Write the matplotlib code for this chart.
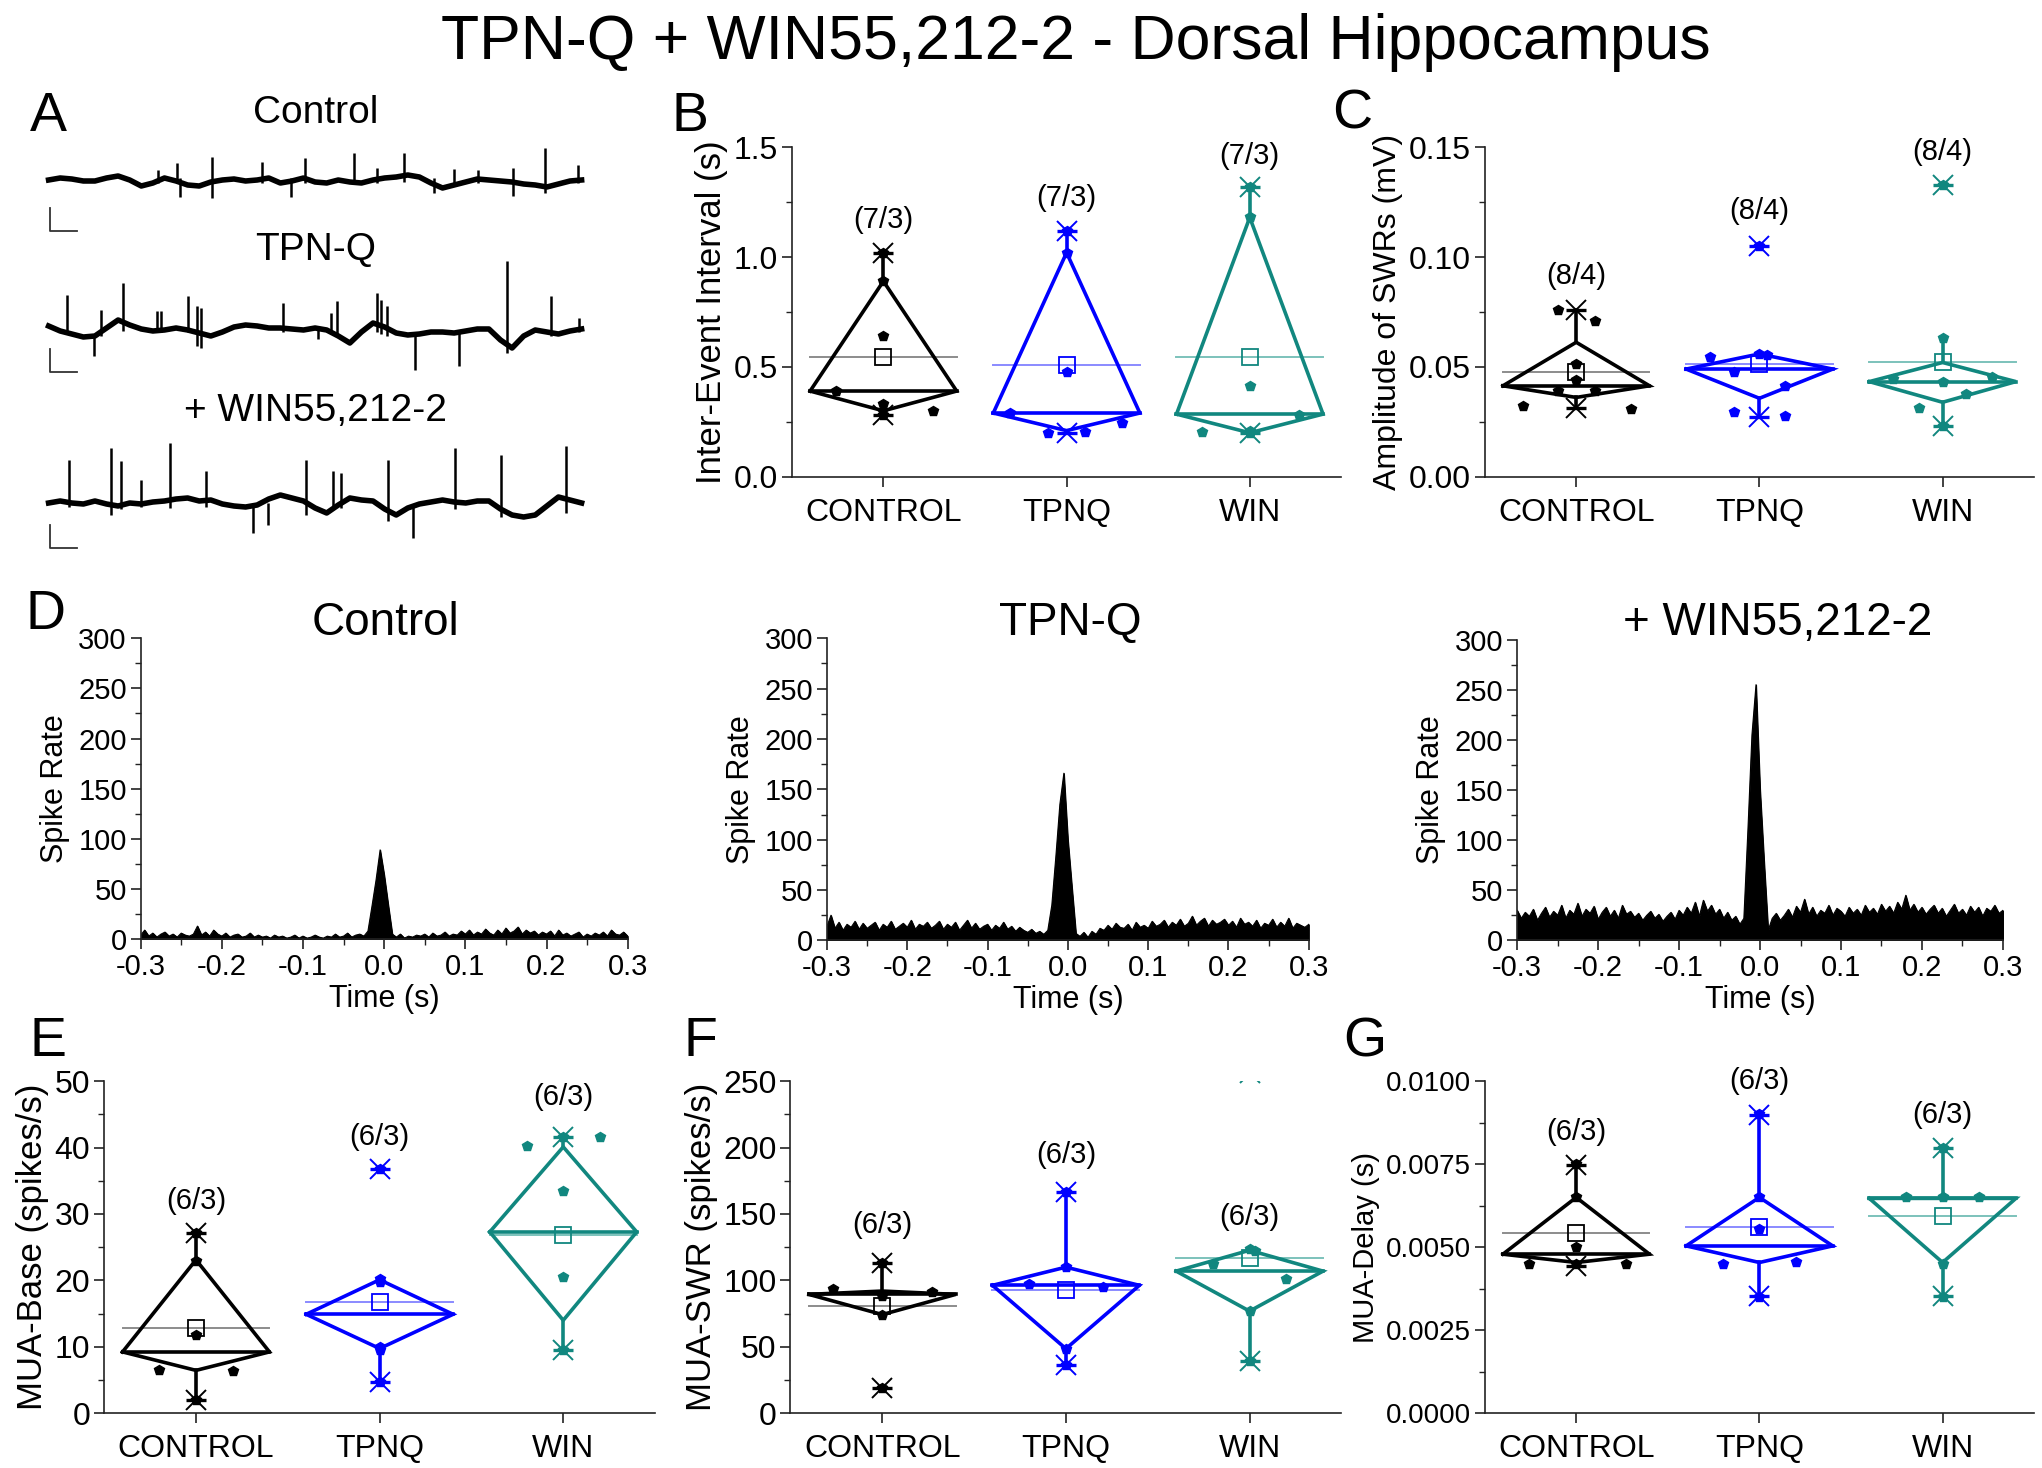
import numpy as np
import matplotlib
matplotlib.use('Agg')
import matplotlib.pyplot as plt
from matplotlib.ticker import AutoMinorLocator, FormatStrFormatter, MultipleLocator

plt.rcParams['font.family'] = ['Liberation Sans', 'DejaVu Sans']
plt.rcParams['axes.unicode_minus'] = False

groups = ['CONTROL', 'TPNQ', 'WIN']
colors = ['#000000', '#0000ff', '#11877f']
mean_colors = ['#8c8c8c', '#8a8aff', '#7cc2bb']

# ---- panel A: example traces (values in px-like units, up = positive) ----
trace_titles = ['Control', 'TPN-Q', '+ WIN55,212-2']
trace1 = [0, 2, 1, -1, -1, 2, 4, 0, -6, -3, 2, -1, -5, -6, -2, 0, 1, -1, 0, 2, -3, -1, 2, -2,
          -3, 0, -2, -3, 0, 2, 3, 5, 3, -3, -8, -5, -2, 1, 0, -1, -2, -4, -5, -7, -4, -1, 0]
trace2 = [2, -3, -6, -9, -8, 0, 8, 3, -1, -3, -2, 0, -2, -5, -8, -4, 1, 3, 2, 0, 0, -1, -2, 0,
          -2, -8, -15, -4, 5, 1, -5, -7, -6, -4, -4, -5, -3, -1, -1, -12, -20, -8, -2, -4, -6, -3, -1]
trace3 = [0, 2, 0, -1, 2, -1, -3, 0, -1, 1, 2, 4, 5, 2, 3, -1, -3, -4, -2, 4, 8, 5, 2, -5,
          -10, -2, 5, 3, 2, -6, -12, -5, -1, 1, 3, 1, 0, 2, 2, -6, -12, -14, -12, -3, 6, 3, 0]
# spikes: position (fraction of trace), top, bottom
spk1_pos = [0.205, 0.241, 0.246, 0.306, 0.401, 0.454, 0.481, 0.573, 0.616, 0.666, 0.724,
            0.760, 0.806, 0.871, 0.932, 0.993]
spk1_top = [10, 17, 2, 23, 18, 2, 22, 27, 12, 27, 2, 11, 10, 12, 32, 15]
spk1_bot = [-3, -3, -17, -18, -3, -17, -3, -4, -3, -2, -13, -6, -3, -16, -13, -3]
spk2_pos = [0.034, 0.085, 0.099, 0.140, 0.203, 0.210, 0.261, 0.279, 0.286, 0.440, 0.505,
            0.530, 0.541, 0.616, 0.623, 0.634, 0.688, 0.770, 0.860, 0.943, 0.996]
spk2_top = [33, -6, 18, 45, 17, 17, 32, 22, 20, 25, 0, 15, 27, 35, 28, 22, -4, -3, 67, 32, 10]
spk2_bot = [-4, -28, -8, -3, -4, -4, -4, -18, -20, -4, -11, -6, -8, -4, -6, -8, -42, -38, -25, -8, -4]
spk3_pos = [0.038, 0.117, 0.135, 0.174, 0.228, 0.296, 0.383, 0.411, 0.483, 0.533, 0.548,
            0.637, 0.684, 0.763, 0.849, 0.971]
spk3_top = [43, 55, 42, 23, 60, 32, 0, 0, 43, 32, 30, 43, -2, 55, 48, 57]
spk3_bot = [-4, -12, -6, -4, -5, -4, -30, -22, -12, -6, -5, -18, -35, -6, -14, -10]

# ---- panel B ----
B_q1 = [0.30, 0.21, 0.20]
B_med = [0.39, 0.29, 0.285]
B_q3 = [0.89, 1.02, 1.18]
B_wlo = [0.28, 0.20, 0.20]
B_whi = [1.02, 1.12, 1.32]
B_min = [0.28, 0.20, 0.20]
B_max = [1.02, 1.12, 1.32]
B_mean = [0.547, 0.509, 0.547]
B_pts = [[1.02, 0.89, 0.64, 0.39, 0.33, 0.30, 0.28],
         [1.12, 1.02, 0.475, 0.29, 0.20, 0.205, 0.243],
         [1.32, 1.18, 0.414, 0.28, 0.205, 0.20, 0.21]]
B_dx = [[0, 0, 0, -0.26, 0, 0.27, 0],
        [0, 0, 0, -0.31, -0.10, 0.10, 0.30],
        [0, 0, 0, 0.27, -0.26, 0, 0]]
B_n = ['(7/3)', '(7/3)', '(7/3)']
B_ny = [1.17, 1.27, 1.46]

# ---- panel C ----
C_q1 = [0.0361, 0.0357, 0.0339]
C_med = [0.0414, 0.0490, 0.0433]
C_q3 = [0.0612, 0.0559, 0.0520]
C_wlo = [0.0313, 0.0273, 0.0232]
C_whi = [0.0759, 0.0559, 0.0630]
C_min = [0.0313, 0.0273, 0.0232]
C_max = [0.0759, 0.105, 0.1328]
C_mean = [0.0477, 0.0513, 0.0523]
C_pts = [[0.0759, 0.0707, 0.0513, 0.044, 0.039, 0.039, 0.032, 0.0308],
         [0.105, 0.0543, 0.0559, 0.0555, 0.0475, 0.0414, 0.0293, 0.0278],
         [0.1328, 0.063, 0.0433, 0.0445, 0.0452, 0.0377, 0.0313, 0.0232]]
C_dx = [[-0.10, 0.10, 0, 0, -0.10, 0.10, -0.29, 0.30],
        [0, -0.27, 0, 0.04, -0.14, 0.14, -0.14, 0.14],
        [0, 0, 0, -0.27, 0.27, 0.13, -0.13, 0]]
C_n = ['(8/4)', '(8/4)', '(8/4)']
C_ny = [0.0912, 0.121, 0.1477]

# ---- panel D: PSTH, 5 ms steps from -0.3 to 0.3 s ----
psth_t = np.arange(-0.3, 0.3001, 0.005)
psth_titles = ['Control', 'TPN-Q', '+ WIN55,212-2']
psth_ctrl = [4, 9, 3, 6, 2, 5, 7, 3, 5, 2,
             6, 4, 3, 5, 13, 4, 7, 3, 9, 5,
             3, 6, 2, 4, 5, 2, 3, 6, 2, 4,
             2, 3, 1, 4, 2, 3, 1, 2, 4, 1,
             3, 1, 2, 4, 2, 1, 3, 2, 5, 2,
             3, 6, 2, 4, 5, 3, 8, 33, 59, 89,
             64, 34, 5, 2, 5, 1, 3, 2, 4, 3,
             5, 2, 6, 3, 4, 7, 3, 5, 4, 8,
             5, 9, 4, 7, 5, 10, 6, 4, 9, 5,
             11, 6, 8, 12, 5, 9, 6, 8, 4, 7,
             5, 8, 3, 9, 4, 6, 3, 5, 7, 2,
             5, 3, 6, 4, 7, 3, 9, 5, 4, 7, 3]
psth_tpnq = [14, 25, 12, 18, 10, 16, 13, 19, 11, 17,
             12, 15, 18, 10, 16, 13, 19, 11, 14, 17,
             13, 20, 11, 16, 14, 18, 12, 15, 19, 11,
             16, 13, 18, 10, 15, 20, 12, 17, 11, 14,
             16, 10, 15, 12, 18, 11, 14, 9, 13, 10,
             8, 11, 7, 9, 6, 10, 35, 83, 135, 166,
             100, 53, 7, 4, 8, 3, 9, 6, 12, 10,
             15, 11, 17, 13, 12, 16, 10, 18, 13, 15,
             12, 19, 14, 16, 20, 13, 18, 15, 21, 14,
             17, 24, 15, 19, 22, 14, 20, 16, 18, 21,
             15, 19, 13, 22, 16, 18, 14, 20, 12, 17,
             15, 21, 13, 18, 14, 22, 12, 17, 15, 13, 16]
psth_win = [30, 22, 28, 24, 31, 20, 27, 33, 23, 29,
            25, 35, 22, 30, 26, 37, 24, 31, 27, 34,
            21, 28, 33, 24, 30, 22, 35, 26, 29, 23,
            27, 20, 25, 29, 22, 26, 19, 24, 28, 21,
            30, 25, 33, 27, 38, 24, 40, 29, 35, 26,
            31, 22, 28, 20, 24, 16, 22, 110, 205, 255,
            150, 78, 10, 22, 27, 20, 25, 31, 23, 34,
            28, 41, 26, 33, 24, 30, 27, 35, 25, 32,
            29, 24, 33, 27, 31, 25, 35, 28, 32, 26,
            36, 29, 34, 27, 38, 31, 45, 30, 36, 28,
            33, 26, 31, 35, 27, 32, 24, 30, 36, 27,
            31, 25, 34, 28, 33, 24, 32, 29, 35, 27, 30]

# ---- panel E ----
E_q1 = [6.46, 9.75, 14.0]
E_med = [9.24, 14.9, 27.3]
E_q3 = [23.1, 20.1, 40.1]
E_wlo = [2.0, 4.7, 9.6]
E_whi = [27.2, 20.1, 41.6]
E_min = [2.0, 4.7, 9.6]
E_max = [27.2, 36.7, 41.6]
E_mean = [12.8, 16.8, 26.8]
E_pts = [[27.2, 22.9, 11.8, 6.5, 6.4, 2.0],
         [36.7, 20.2, 19.8, 10.0, 9.5, 4.7],
         [41.6, 41.6, 40.3, 33.5, 20.5, 9.6]]
E_dx = [[0, 0, 0, -0.2, 0.2, 0],
        [0, 0, 0, 0, 0, 0],
        [0, 0.2, -0.2, 0, 0, 0]]
E_n = ['(6/3)', '(6/3)', '(6/3)']
E_ny = [32.0, 41.6, 47.6]

# ---- panel F ----
F_q1 = [74.3, 48.6, 76.9]
F_med = [89.5, 96.3, 107]
F_q3 = [92, 110, 122.7]
F_wlo = [74.3, 36.5, 39.6]
F_whi = [113.4, 166.8, 122.7]
F_min = [18.9, 36.5, 39.6]
F_max = [113.4, 166.8, 256]
F_mean = [80.6, 92.5, 117]
F_pts = [[113.4, 93.7, 91.5, 88, 74, 18.9],
         [166.8, 110, 97, 95.3, 48.6, 36.5],
         [123.5, 122.0, 112.6, 101.3, 77, 39.6]]
F_dx = [[0, -0.27, 0.27, 0, 0, 0],
        [0, 0, -0.2, 0.2, 0, 0],
        [0, 0.03, -0.2, 0.2, 0, 0]]
F_n = ['(6/3)', '(6/3)', '(6/3)']
F_ny = [142, 194.6, 148]

# ---- panel G ----
G_q1 = [0.00454, 0.00454, 0.00454]
G_med = [0.00479, 0.00504, 0.00647]
G_q3 = [0.00650, 0.00650, 0.00647]
G_wlo = [0.00444, 0.00353, 0.00353]
G_whi = [0.00748, 0.00899, 0.00798]
G_min = [0.00444, 0.00353, 0.00353]
G_max = [0.00748, 0.00899, 0.00798]
G_mean = [0.00544, 0.00561, 0.00593]
G_pts = [[0.0075, 0.0065, 0.00502, 0.0045, 0.0045, 0.0045],
         [0.0090, 0.0065, 0.00554, 0.0045, 0.00454, 0.0035],
         [0.0080, 0.0065, 0.0065, 0.0065, 0.0045, 0.0035]]
G_dx = [[0, 0, 0, -0.26, 0.27, 0],
        [0, 0, 0, -0.2, 0.2, 0],
        [0, -0.2, 0, 0.2, 0, 0]]
G_n = ['(6/3)', '(6/3)', '(6/3)']
G_ny = [0.00847, 0.0100, 0.00899]

W, H = 1568.0, 1127.0  # layout measured on the shrunk reference


def frac_rect(left, top, right, bottom):
    return [left / W, 1 - bottom / H, (right - left) / W, (bottom - top) / H]


def style_axes(ax, tick_fs):
    for s in ['top', 'right']:
        ax.spines[s].set_visible(False)
    for s in ['left', 'bottom']:
        ax.spines[s].set_linewidth(1.2)
        ax.spines[s].set_color('#222222')
    ax.tick_params(which='major', direction='out', length=7, width=1.2,
                   labelsize=tick_fs, color='#222222', pad=3)
    ax.tick_params(which='minor', direction='out', length=4, width=1.0, color='#222222')


def box_panel(ax, q1, med, q3, wlo, whi, mn, mx, mean, pts, dx, ntext, ny,
              ylim, major, fmt, ylabel, ylabel_fs=25, tick_fs=23):
    w = 0.4
    for i in range(3):
        x = i + 1
        c = colors[i]
        ax.plot([x, x], [q3[i], whi[i]], color=c, lw=2.6, zorder=3)
        ax.plot([x, x], [q1[i], wlo[i]], color=c, lw=2.6, zorder=3)
        ax.plot([x - w, x, x + w, x, x - w], [med[i], q3[i], med[i], q1[i], med[i]],
                color=c, lw=2.6, solid_joinstyle='miter', zorder=3)
        ax.plot([x - w, x + w], [med[i], med[i]], color=c, lw=2.6, zorder=3)
        ax.plot([x - w, x + w], [mean[i], mean[i]], color=mean_colors[i], lw=1.4, zorder=2)
        ax.plot(x, mean[i], ls='none', marker='s', ms=12, mfc='none', mec=c, mew=1.3, zorder=4)
        ax.plot(x + np.array(dx[i]), pts[i], ls='none', marker='p', ms=7, color=c, zorder=4)
        ax.plot([x, x], [mn[i], mx[i]], ls='none', marker='x', ms=15, mew=1.4, color=c, zorder=5)
        ax.plot([x, x], [mn[i], mx[i]], ls='none', marker='_', ms=15, mew=2.4, color=c, zorder=5)
        ax.text(x, ny[i], ntext[i], ha='center', va='center', fontsize=21)
    ax.set_xlim(0.5, 3.5)
    ax.set_ylim(*ylim)
    ax.set_xticks([1, 2, 3])
    ax.set_xticklabels(groups)
    ax.yaxis.set_major_locator(MultipleLocator(major))
    ax.yaxis.set_minor_locator(AutoMinorLocator(2))
    ax.yaxis.set_major_formatter(FormatStrFormatter(fmt))
    ax.set_ylabel(ylabel, fontsize=ylabel_fs, labelpad=4)
    style_axes(ax, tick_fs)
    ax.tick_params(axis='x', labelsize=23, pad=8)


fig = plt.figure(figsize=(20.42, 14.68), dpi=100)

fig.text(826 / W, 1 - 33 / H, 'TPN-Q + WIN55,212-2 - Dorsal Hippocampus',
         ha='center', va='center', fontsize=45)

# panel letters
for lab, (lx, ly) in zip('ABCDEFG', [(37, 90), (530, 90), (1038, 88), (35, 472),
                                     (37, 800), (538, 800), (1048, 800)]):
    fig.text(lx / W, 1 - ly / H, lab, ha='center', va='center', fontsize=40)

# ---- A: traces, axes in full-size pixel units ----
axA = fig.add_axes([0, 1 - 560 / 1468, 600 / 2042, 500 / 1468])
axA.set_xlim(0, 600)
axA.set_ylim(560, 60)
axA.axis('off')
trace_x0, trace_w = 48.6, 533.0
trace_base = [180, 328, 503]
title_y = [113, 250, 411]
bar_y = [(208, 231), (349, 372), (525, 548)]
traces = [trace1, trace2, trace3]
spikes = [(spk1_pos, spk1_top, spk1_bot), (spk2_pos, spk2_top, spk2_bot),
          (spk3_pos, spk3_top, spk3_bot)]
for k in range(3):
    vals = np.array(traces[k])
    xs = trace_x0 + np.linspace(0, 1, len(vals)) * trace_w
    axA.plot(xs, trace_base[k] - vals, color='black', lw=4.0, solid_joinstyle='round')
    pos, top, bot = spikes[k]
    axA.vlines(trace_x0 + np.array(pos) * trace_w, trace_base[k] - np.array(bot),
               trace_base[k] - np.array(top), color='black', lw=1.8)
    axA.text(316, title_y[k], trace_titles[k], ha='center', va='center', fontsize=28)
    y0, y1 = bar_y[k]
    axA.plot([50, 50, 77], [y0, y1, y1], color='#333333', lw=1.3)

# ---- B and C ----
axB = fig.add_axes(frac_rect(608, 113, 1030, 366))
box_panel(axB, B_q1, B_med, B_q3, B_wlo, B_whi, B_min, B_max, B_mean, B_pts, B_dx,
          B_n, B_ny, (0, 1.5), 0.5, '%.1f', 'Inter-Event Interval (s)')
axC = fig.add_axes(frac_rect(1140, 113, 1562, 366))
box_panel(axC, C_q1, C_med, C_q3, C_wlo, C_whi, C_min, C_max, C_mean, C_pts, C_dx,
          C_n, C_ny, (0, 0.15), 0.05, '%.2f', 'Amplitude of SWRs (mV)', ylabel_fs=23)

# ---- D: PSTHs ----
psth_vals = [psth_ctrl, psth_tpnq, psth_win]
psth_rects = [(108, 490, 482, 721), (635, 490, 1005, 722), (1165, 491, 1538, 722)]
psth_title_x = [296, 822, 1365]
for k in range(3):
    l, t, r, b = psth_rects[k]
    ax = fig.add_axes(frac_rect(l, t, r, b))
    v = np.array(psth_vals[k], dtype=float)
    ax.fill_between(psth_t, 0, v, color='black', lw=0.8)
    ax.plot(psth_t, v, color='black', lw=0.8)
    ax.set_xlim(-0.3, 0.3)
    ax.set_ylim(0, 300)
    ax.xaxis.set_major_locator(MultipleLocator(0.1))
    ax.xaxis.set_minor_locator(AutoMinorLocator(2))
    ax.xaxis.set_major_formatter(FormatStrFormatter('%.1f'))
    ax.yaxis.set_major_locator(MultipleLocator(50))
    ax.yaxis.set_minor_locator(AutoMinorLocator(2))
    style_axes(ax, 21)
    ax.set_xlabel('Time (s)', fontsize=22, labelpad=2)
    ax.set_ylabel('Spike Rate', fontsize=22, labelpad=6)
    fig.text(psth_title_x[k] / W, 1 - 478 / H, psth_titles[k], ha='center', va='center',
             fontsize=33)

# ---- E, F, G ----
axE = fig.add_axes(frac_rect(80, 830, 503, 1085))
box_panel(axE, E_q1, E_med, E_q3, E_wlo, E_whi, E_min, E_max, E_mean, E_pts, E_dx,
          E_n, E_ny, (0, 50), 10, '%d', 'MUA-Base (spikes/s)')
axF = fig.add_axes(frac_rect(607, 830, 1030, 1085))
box_panel(axF, F_q1, F_med, F_q3, F_wlo, F_whi, F_min, F_max, F_mean, F_pts, F_dx,
          F_n, F_ny, (0, 250), 50, '%d', 'MUA-SWR (spikes/s)')
axG = fig.add_axes(frac_rect(1140, 830, 1562, 1085))
box_panel(axG, G_q1, G_med, G_q3, G_wlo, G_whi, G_min, G_max, G_mean, G_pts, G_dx,
          G_n, G_ny, (0, 0.01), 0.0025, '%.4f', 'MUA-Delay (s)', ylabel_fs=21, tick_fs=20)

fig.savefig('out.png', dpi=100)
